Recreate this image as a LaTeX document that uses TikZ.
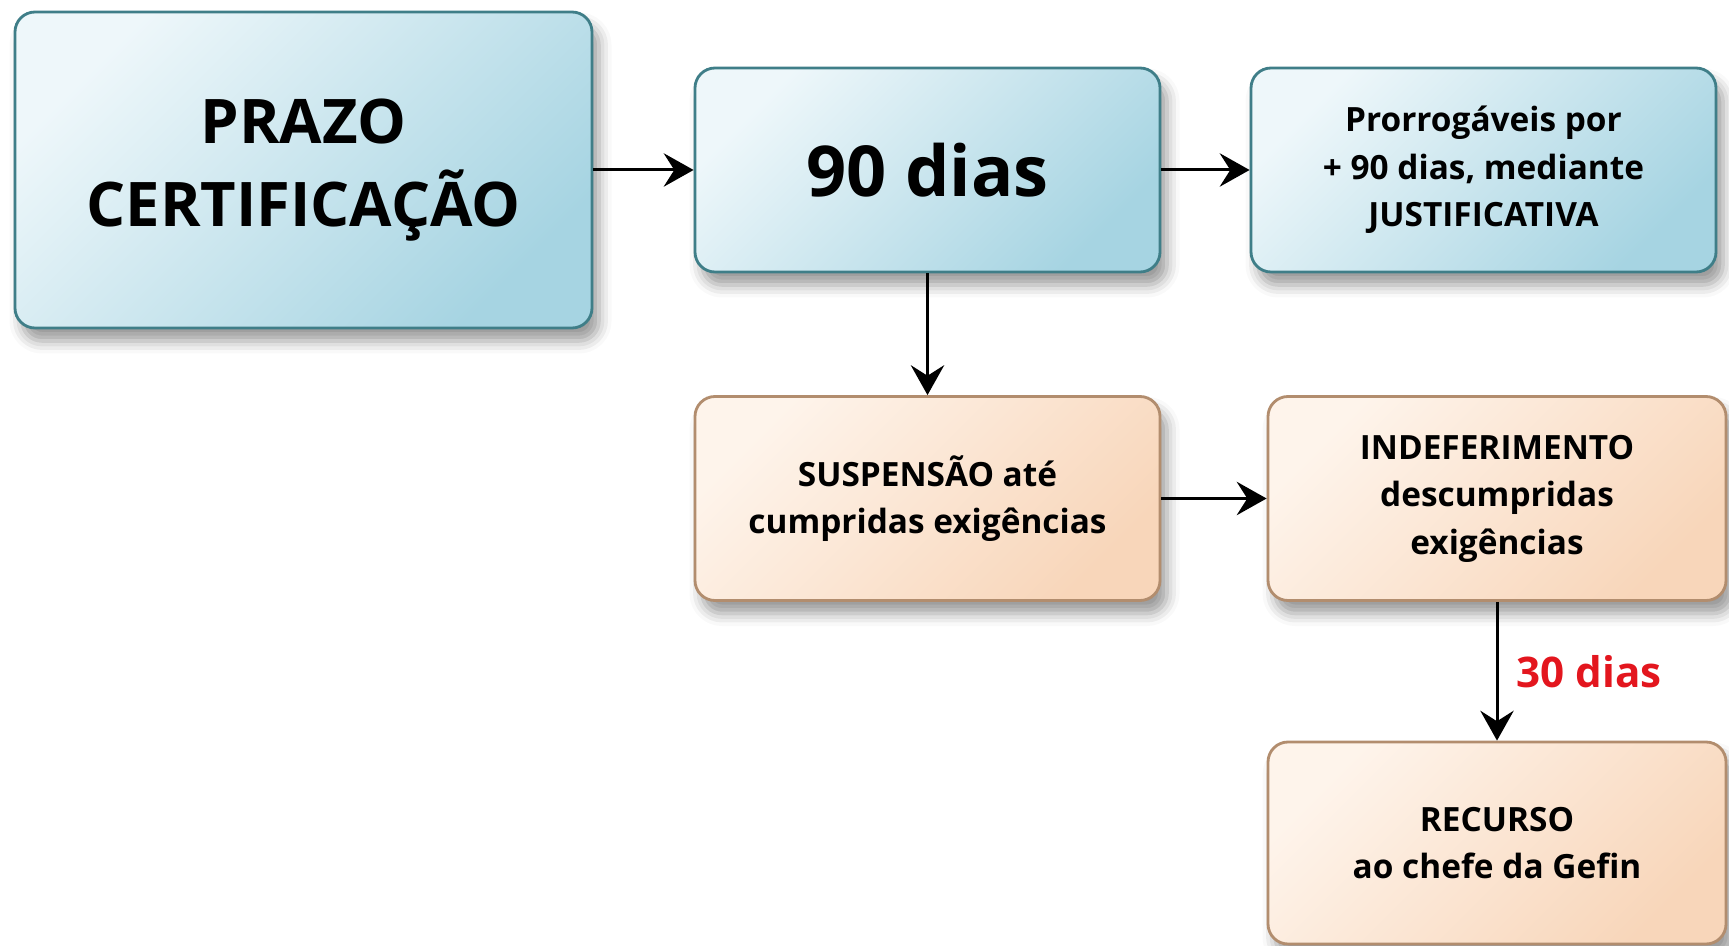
\documentclass[tikz,border=0pt]{standalone}
\usepackage{fontspec}
\setmainfont{Open Sans}
\usetikzlibrary{arrows.meta,shadows.blur}
\definecolor{bluelt}{HTML}{EEF7FA}
\definecolor{bluedk}{HTML}{A6D4E2}
\definecolor{blueln}{HTML}{3F7E88}
\definecolor{orglt}{HTML}{FEF4EB}
\definecolor{orgdk}{HTML}{F8D6BA}
\definecolor{orgln}{HTML}{B28D6E}
\definecolor{redtxt}{HTML}{E3161E}
\tikzset{
  box/.style={rounded corners=0.4cm,line width=1.6pt,align=center,inner sep=0pt,
    font=\bfseries\fontsize{19}{27}\selectfont,
    blur shadow={shadow xshift=0.14cm,shadow yshift=-0.26cm,shadow blur radius=0.25cm,shadow opacity=40}},
  bluebox/.style={box,draw=blueln,top color=bluelt,bottom color=bluedk,shading angle=45},
  orgbox/.style={box,draw=orgln,top color=orglt,bottom color=orgdk,shading angle=45},
}
\begin{document}
\begin{tikzpicture}[>={Stealth[length=17pt,width=19pt,inset=6pt]},line width=1.7pt]
            \useasboundingbox (0,0) rectangle (34.58,-18.92);
            \node[bluebox,minimum width=11.54cm,minimum height=6.32cm,font=\bfseries\fontsize{35}{47}\selectfont] (prazo) at (6.07,-3.40) {PRAZO\\CERTIFICAÇÃO};
            \node[bluebox,minimum width=9.30cm,minimum height=4.08cm,font=\bfseries\fontsize{40}{48}\selectfont] (noventa) at (18.55,-3.40) {90 dias};
            \node[bluebox,minimum width=9.30cm,minimum height=4.08cm] (prorroga) at (29.67,-3.40) {Prorrogáveis por\\+ 90 dias, mediante\\JUSTIFICATIVA};
            \node[orgbox,minimum width=9.30cm,minimum height=4.08cm] (suspensao) at (18.55,-9.97) {SUSPENSÃO até\\cumpridas exigências};
            \node[orgbox,minimum width=9.16cm,minimum height=4.08cm] (indefer) at (29.94,-9.97) {INDEFERIMENTO\\descumpridas\\exigências};
            \node[orgbox,minimum width=9.16cm,minimum height=4.04cm] (recurso) at (29.94,-16.86) {RECURSO\\ao chefe da Gefin};
            \draw[->] (prazo)--(noventa);
            \draw[->] (noventa)--(prorroga);
            \draw[->] (noventa)--(suspensao);
            \draw[->] (suspensao)--(indefer);
            \draw[->] (indefer)--(recurso) node[midway,right=0.25cm,text=redtxt,font=\bfseries\fontsize{24}{28}\selectfont]{30 dias};
        \end{tikzpicture}
\end{document}
